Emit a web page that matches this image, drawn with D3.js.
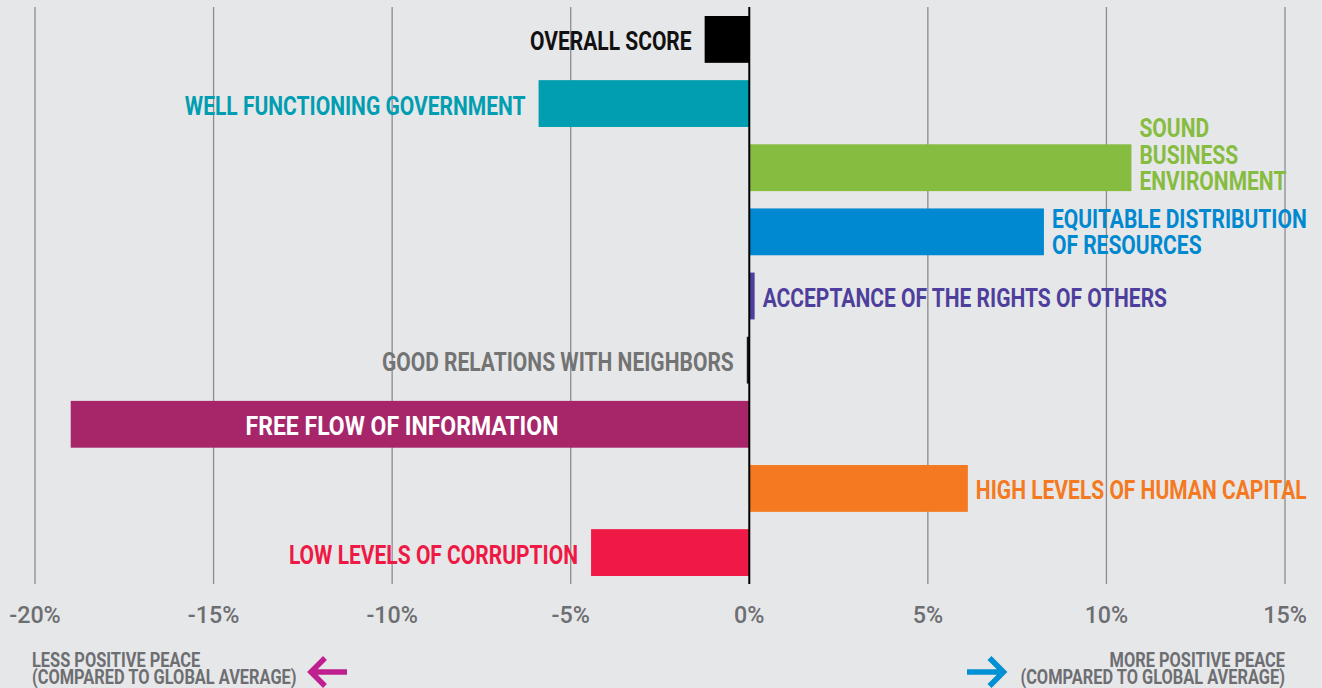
<!DOCTYPE html>
<html>
<head>
<meta charset="utf-8">
<script src="https://cdn.jsdelivr.net/npm/d3@7"></script>
<style>
  html, body { margin: 0; padding: 0; background: #e6e7e9; }
  svg { display: block; }
  text { font-family: Roboto, "Liberation Sans", sans-serif; }
</style>
</head>
<body>
<div id="chart"></div>
<script>
// Positive Peace pillars, change vs global average
const categories = [
  "OVERALL SCORE",
  "WELL FUNCTIONING GOVERNMENT",
  "SOUND BUSINESS ENVIRONMENT",
  "EQUITABLE DISTRIBUTION OF RESOURCES",
  "ACCEPTANCE OF THE RIGHTS OF OTHERS",
  "GOOD RELATIONS WITH NEIGHBORS",
  "FREE FLOW OF INFORMATION",
  "HIGH LEVELS OF HUMAN CAPITAL",
  "LOW LEVELS OF CORRUPTION"
];
const labelLines = [
  ["OVERALL SCORE"],
  ["WELL FUNCTIONING GOVERNMENT"],
  ["SOUND", "BUSINESS", "ENVIRONMENT"],
  ["EQUITABLE DISTRIBUTION", "OF RESOURCES"],
  ["ACCEPTANCE OF THE RIGHTS OF OTHERS"],
  ["GOOD RELATIONS WITH NEIGHBORS"],
  ["FREE FLOW OF INFORMATION"],
  ["HIGH LEVELS OF HUMAN CAPITAL"],
  ["LOW LEVELS OF CORRUPTION"]
];
const values = [-1.25, -5.9, 10.7, 8.25, 0.15, -0.07, -19.0, 6.12, -4.43];
const barColors = ["#000000", "#009eb0", "#86bc40", "#0089d0", "#4e3f9c", "#1a1a1a", "#a7266a", "#f47920", "#ee1944"];
const labelColors = ["#111111", "#009eb0", "#86bc40", "#0089d0", "#4e3f9c", "#737373", "#ffffff", "#f47920", "#ee1944"];
const ticks = [-20, -15, -10, -5, 0, 5, 10, 15];
const leftNote = ["LESS POSITIVE PEACE", "(COMPARED TO GLOBAL AVERAGE)"];
const rightNote = ["MORE POSITIVE PEACE", "(COMPARED TO GLOBAL AVERAGE)"];

const width = 1322;
const height = 688;

const svg = d3.select("#chart")
  .append("svg")
  .attr("width", width)
  .attr("height", height);

svg.append("rect")
  .attr("width", width)
  .attr("height", height)
  .attr("fill", "#e6e7e9");

const x = d3.scaleLinear().domain([-20, 15]).range([35, 1285]);
const y = d3.scaleBand()
  .domain(categories)
  .range([16, 576])
  .paddingInner(0.27)
  .paddingOuter(0);

// the original type is a condensed face; squeeze the installed one to match
function squeeze(sel, k) {
  sel.each(function () {
    const len = this.getComputedTextLength();
    d3.select(this)
      .attr("textLength", len * k)
      .attr("lengthAdjust", "spacingAndGlyphs");
  });
}

// gridlines
svg.append("g")
  .selectAll("line")
  .data(ticks.filter((t) => t !== 0))
  .join("line")
  .attr("x1", (d) => x(d))
  .attr("x2", (d) => x(d))
  .attr("y1", 7)
  .attr("y2", 584)
  .attr("stroke", "#8c8c8c")
  .attr("stroke-width", 1.3);

// bars
const rows = categories.map((c, i) => ({ c, v: values[i], lines: labelLines[i], bar: barColors[i], label: labelColors[i] }));

svg.append("g")
  .selectAll("rect")
  .data(rows)
  .join("rect")
  .attr("x", (d) => Math.min(x(0), x(d.v)))
  .attr("y", (d) => y(d.c))
  .attr("width", (d) => Math.abs(x(d.v) - x(0)))
  .attr("height", y.bandwidth())
  .attr("fill", (d) => d.bar);

// zero line
svg.append("line")
  .attr("x1", x(0))
  .attr("x2", x(0))
  .attr("y1", 7)
  .attr("y2", 584)
  .attr("stroke", "#000")
  .attr("stroke-width", 2);

// bar labels
const lineH = 26.5;
svg.append("g")
  .selectAll("text")
  .data(rows)
  .join("text")
  .attr("font-weight", "bold")
  .attr("font-size", 25)
  .attr("fill", (d) => d.label)
  .each(function (d) {
    const t = d3.select(this);
    const w = Math.abs(x(d.v) - x(0));
    const inside = w > 400;
    let tx, anchor;
    if (inside) {
      tx = (x(d.v) + x(0)) / 2 - 8;
      anchor = "middle";
    } else if (d.v < 0) {
      tx = x(d.v) - 13;
      anchor = "end";
    } else {
      tx = x(d.v) + 8;
      anchor = "start";
    }
    const n = d.lines.length;
    const center = y(d.c) + y.bandwidth() / 2;
    const lastBase = n > 1 ? y(d.c) + y.bandwidth() - 1 : center + 11;
    t.attr("text-anchor", anchor);
    d.lines.forEach((line, k) => {
      t.append("tspan")
        .attr("x", tx)
        .attr("y", lastBase - (n - 1 - k) * lineH)
        .text(line);
    });
    squeeze(t.selectAll("tspan"), inside ? 0.92 : 0.84);
  });

// tick labels
svg.append("g")
  .selectAll("text")
  .data(ticks)
  .join("text")
  .attr("x", (d) => x(d))
  .attr("y", 623)
  .attr("text-anchor", "middle")
  .attr("font-size", 24)
  .attr("font-weight", 500)
  .attr("fill", "#6d6e71")
  .text((d) => `${d}%`)
  .call(squeeze, 0.97);

// bottom notes
function note(lines, tx, anchor) {
  const t = svg.append("text")
    .attr("text-anchor", anchor)
    .attr("font-weight", "bold")
    .attr("font-size", 19.5)
    .attr("fill", "#6d6e71");
  lines.forEach((line, k) => {
    t.append("tspan").attr("x", tx).attr("y", 667 + k * 17).text(line);
  });
  squeeze(t.selectAll("tspan"), 0.84);
}
note(leftNote, 32, "start");
note(rightNote, 1285, "end");

function arrow(x1, x2, yy, color) {
  const dir = Math.sign(x2 - x1);
  const head = 14;
  svg.append("path")
    .attr("d", `M${x1},${yy}L${x2},${yy}M${x2 - dir * head},${yy - head}L${x2},${yy}L${x2 - dir * head},${yy + head}`)
    .attr("fill", "none")
    .attr("stroke", color)
    .attr("stroke-width", 5.5)
    .attr("stroke-linejoin", "miter");
}
arrow(347, 311, 672, "#c0208f");
arrow(967, 1003.5, 672, "#0090d4");
</script>
</body>
</html>
